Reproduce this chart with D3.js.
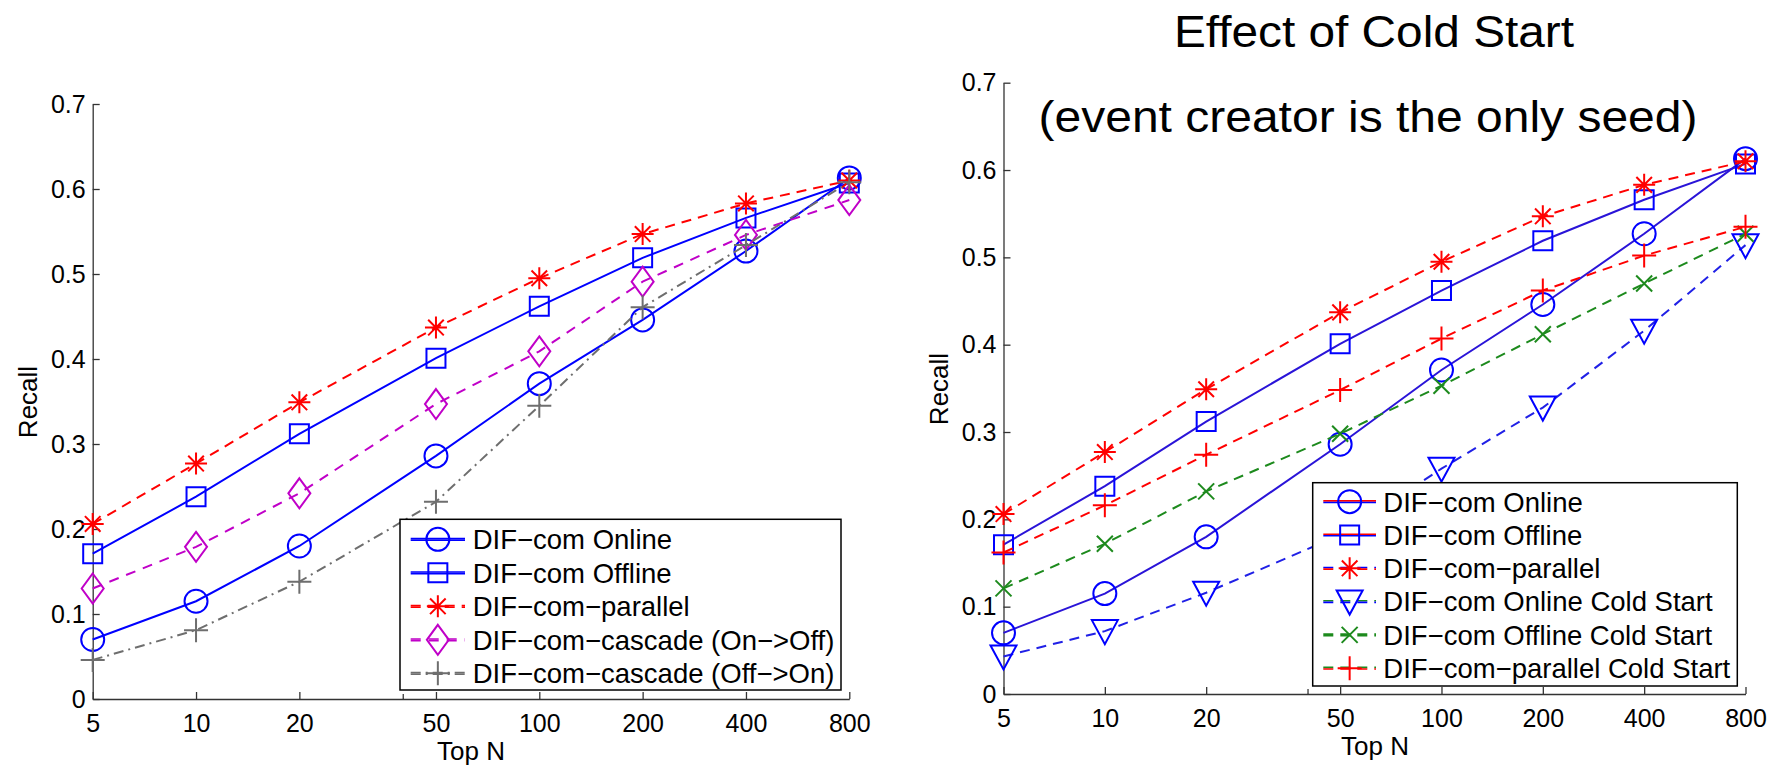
<!DOCTYPE html>
<html>
<head>
<meta charset="utf-8">
<script src="https://cdn.jsdelivr.net/npm/d3@7"></script>
<style>
  body { margin: 0; background: #fff; }
  svg text { font-family: "Liberation Sans", Arial, Helvetica, sans-serif; fill: #000; }
</style>
</head>
<body>
<div id="chart"></div>
<script>
// x categories (log axis) and y ticks
const topN = [5, 10, 20, 50, 100, 200, 400, 800];
const minorTicks = [40];
const yTicks = [0, 0.1, 0.2, 0.3, 0.4, 0.5, 0.6, 0.7];

// recall values
const onlineRecall = [0.07, 0.115, 0.18, 0.286, 0.371, 0.446, 0.527, 0.613];
const offlineRecall = [0.171, 0.238, 0.312, 0.401, 0.462, 0.519, 0.566, 0.607];
const parallelRecall = [0.206, 0.277, 0.349, 0.437, 0.495, 0.547, 0.583, 0.61];
const cascadeOnOffRecall = [0.13, 0.179, 0.242, 0.347, 0.409, 0.491, 0.546, 0.587];
const cascadeOffOnRecall = [0.046, 0.081, 0.138, 0.232, 0.345, 0.461, 0.534, 0.608];
const onlineColdRecall = [0.043, 0.072, 0.116, 0.182, 0.258, 0.328, 0.416, 0.514];
const offlineColdRecall = [0.121, 0.172, 0.232, 0.298, 0.353, 0.412, 0.47, 0.527];
const parallelColdRecall = [0.162, 0.216, 0.274, 0.348, 0.407, 0.462, 0.502, 0.535];

const leftNames = ["DIF\u2212com Online", "DIF\u2212com Offline", "DIF\u2212com\u2212parallel",
  "DIF\u2212com\u2212cascade (On\u2212>Off)", "DIF\u2212com\u2212cascade (Off\u2212>On)"];
const rightNames = ["DIF\u2212com Online", "DIF\u2212com Offline", "DIF\u2212com\u2212parallel",
  "DIF\u2212com Online Cold Start", "DIF\u2212com Offline Cold Start", "DIF\u2212com\u2212parallel Cold Start"];

const titleText = "Effect of Cold Start";
const subtitleText = "(event creator is the only seed)";

var svg = d3.select("#chart").append("svg")
  .attr("width", 1780)
  .attr("height", 768);

// marker shapes, matlab style
function markerPath(type) {
  var r;
  switch (type) {
    case "circle":
      r = 11.5;
      return "M" + (-r) + ",0A" + r + "," + r + " 0 1 0 " + r + ",0A" + r + "," + r + " 0 1 0 " + (-r) + ",0Z";
    case "square":
      return "M-9.5,-9.5H9.5V9.5H-9.5Z";
    case "diamond":
      return "M0,-15L11,0L0,15L-11,0Z";
    case "star":
      r = 11; var d = 7.8;
      return "M" + (-r) + ",0H" + r + "M0," + (-r) + "V" + r +
        "M" + (-d) + "," + (-d) + "L" + d + "," + d + "M" + (-d) + "," + d + "L" + d + "," + (-d);
    case "plus":
      return "M-12,0H12M0,-12V12";
    case "x":
      return "M-8,-8L8,8M-8,8L8,-8";
    case "tri":
      return "M-13,-11L13,-11L0,13Z";
  }
}

var panels = [
  {
    x0: 92.7, x1: 849.3, y0: 699, y1: 104,
    xLabel: [471, 760], yLabel: [37, 402],
    legend: { x: 400, y: 519.3, w: 441, h: 170.7, first: 20, step: 33.5, l0: 10.7, l1: 65, txt: 72.7 },
    series: [
      { name: leftNames[0], values: onlineRecall, color: "#0000ff", dash: null, marker: "circle", leg: ["#0000ff", "#0000ff"] },
      { name: leftNames[1], values: offlineRecall, color: "#0000ff", dash: null, marker: "square", leg: ["#0000ff", "#0000ff"] },
      { name: leftNames[2], values: parallelRecall, color: "#ff0000", dash: "10,7", marker: "star", leg: ["#ff0000", "#ff0000"] },
      { name: leftNames[3], values: cascadeOnOffRecall, color: "#c000c8", dash: "10,8", marker: "diamond", leg: ["#c000c8", "#c000c8"] },
      { name: leftNames[4], values: cascadeOffOnRecall, color: "#6e6e6e", dash: "10,5,2,5", marker: "plus", leg: ["#6e6e6e", "#6e6e6e"] }
    ]
  },
  {
    x0: 1003.5, x1: 1745.5, y0: 694, y1: 82.7,
    xLabel: [1375, 755], yLabel: [948, 389],
    legend: { x: 1312.7, y: 482.7, w: 424.6, h: 203.3, first: 19, step: 33.3, l0: 10.6, l1: 63.3, txt: 70.6 },
    series: [
      { name: rightNames[0], values: onlineRecall, color: "#2a14d8", dash: null, marker: "circle", mcolor: "#0000ff", leg: ["#ff0000", "#0000ff"] },
      { name: rightNames[1], values: offlineRecall, color: "#2a14d8", dash: null, marker: "square", mcolor: "#0000ff", leg: ["#ff0000", "#0000ff"] },
      { name: rightNames[2], values: parallelRecall, color: "#ff0000", dash: "10,7", marker: "star", leg: ["#0000ff", "#ff0000"] },
      { name: rightNames[3], values: onlineColdRecall, color: "#2020e6", dash: "10,7", marker: "tri", mcolor: "#0000ff", leg: ["#1d8a1d", "#0000ff"] },
      { name: rightNames[4], values: offlineColdRecall, color: "#1d8a1d", dash: "10,7", marker: "x", leg: ["#1d8a1d", "#1d8a1d"] },
      { name: rightNames[5], values: parallelColdRecall, color: "#ff0000", dash: "10,7", marker: "plus", leg: ["#1d8a1d", "#ff0000"] }
    ]
  }
];

panels.forEach(function (p, pi) {
  var xscale = d3.scaleLog().base(2).domain([5, 800]).range([p.x0, p.x1]);
  var yscale = d3.scaleLinear().domain([0, 0.7]).range([p.y0, p.y1]);
  var g = svg.append("g").attr("class", "panel-" + pi);

  // axes, ticks pointing inward, no box
  var xaxis = d3.axisBottom(xscale).tickValues(topN).tickFormat(d3.format("d"))
    .tickSizeInner(-7).tickSizeOuter(0).tickPadding(15);
  var xa = g.append("g").attr("transform", "translate(0," + p.y0 + ")").call(xaxis);
  g.append("g").attr("transform", "translate(0," + p.y0 + ")")
    .call(d3.axisBottom(xscale).tickValues(minorTicks).tickFormat("").tickSizeInner(-5).tickSizeOuter(0))
    .select(".domain").remove();

  var yaxis = d3.axisLeft(yscale).tickValues(yTicks)
    .tickFormat(function (d) { return d === 0 ? "0" : d.toFixed(1); })
    .tickSizeInner(-7).tickSizeOuter(0).tickPadding(7);
  var ya = g.append("g").attr("transform", "translate(" + p.x0 + ",0)").call(yaxis);

  [xa, ya].forEach(function (a) {
    a.attr("color", "#333");
    a.selectAll("path, line").attr("stroke-width", 1.3);
    a.selectAll("text").style("font-size", "25px").attr("fill", "#000");
  });

  g.append("text")
    .attr("x", p.xLabel[0]).attr("y", p.xLabel[1])
    .attr("text-anchor", "middle")
    .style("font-size", "26px")
    .text("Top N");

  g.append("text")
    .attr("transform", "translate(" + p.yLabel[0] + "," + p.yLabel[1] + ") rotate(-90)")
    .attr("text-anchor", "middle")
    .style("font-size", "26px")
    .text("Recall");

  var line = d3.line()
    .x(function (d, i) { return xscale(topN[i]); })
    .y(function (d) { return yscale(d); });

  p.series.forEach(function (s) {
    g.append("path")
      .attr("d", line(s.values))
      .attr("fill", "none")
      .attr("stroke", s.color)
      .attr("stroke-width", 2)
      .attr("stroke-dasharray", s.dash);

    g.selectAll(null)
      .data(s.values)
      .enter()
      .append("path")
      .attr("transform", function (d, i) { return "translate(" + xscale(topN[i]) + "," + yscale(d) + ")"; })
      .attr("d", markerPath(s.marker))
      .attr("fill", "none")
      .attr("stroke", s.mcolor || s.color)
      .attr("stroke-width", 2);
  });

  // legend
  var L = p.legend;
  var lg = g.append("g").attr("transform", "translate(" + L.x + "," + L.y + ")");
  lg.append("rect")
    .attr("width", L.w).attr("height", L.h)
    .attr("fill", "#fff").attr("stroke", "#000").attr("stroke-width", 1.5);

  p.series.forEach(function (s, i) {
    var yy = L.first + i * L.step;
    lg.append("line")
      .attr("x1", L.l0).attr("x2", L.l1).attr("y1", yy - 0.8).attr("y2", yy - 0.8)
      .attr("stroke", s.leg[0]).attr("stroke-width", 1.6).attr("stroke-dasharray", s.dash);
    lg.append("line")
      .attr("x1", L.l0).attr("x2", L.l1).attr("y1", yy + 0.8).attr("y2", yy + 0.8)
      .attr("stroke", s.leg[1]).attr("stroke-width", 1.6).attr("stroke-dasharray", s.dash);
    lg.append("path")
      .attr("transform", "translate(" + ((L.l0 + L.l1) / 2) + "," + yy + ")")
      .attr("d", markerPath(s.marker))
      .attr("fill", "none")
      .attr("stroke", s.mcolor || s.color)
      .attr("stroke-width", 2);
    lg.append("text")
      .attr("x", L.txt).attr("y", yy)
      .attr("dy", "0.36em")
      .style("font-size", "27.5px")
      .text(s.name);
  });
});

// titles of the right panel
svg.append("text")
  .attr("x", 1374).attr("y", 47)
  .attr("text-anchor", "middle")
  .attr("textLength", 400).attr("lengthAdjust", "spacingAndGlyphs")
  .style("font-size", "44px")
  .text(titleText);

svg.append("text")
  .attr("x", 1368).attr("y", 131.5)
  .attr("text-anchor", "middle")
  .attr("textLength", 659).attr("lengthAdjust", "spacingAndGlyphs")
  .style("font-size", "44px")
  .text(subtitleText);
</script>
</body>
</html>
